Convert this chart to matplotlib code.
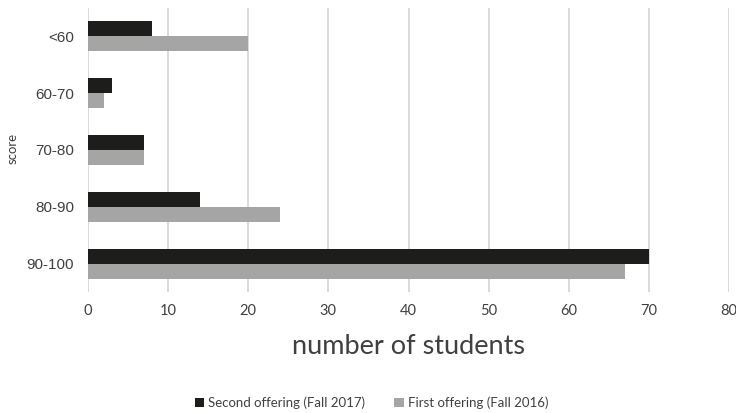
import numpy as np
import matplotlib.pyplot as plt

categories = ["<60", "60-70", "70-80", "80-90", "90-100"]
second_offering = [8, 3, 7, 14, 70]   # Fall 2017
first_offering = [20, 2, 7, 24, 67]   # Fall 2016
x_ticks = [0, 10, 20, 30, 40, 50, 60, 70, 80]

dark = "#1d1d1b"
gray = "#a5a5a5"
text_col = "#404040"

fig = plt.figure(figsize=(7.36, 4.13), dpi=100)
ax = fig.add_axes([0.1196, 0.293, 0.8709, 0.688])

pos = np.arange(len(categories))
h = 0.265
ax.barh(pos - h / 2, second_offering, height=h, color=dark,
        label="Second offering (Fall 2017)", zorder=3)
ax.barh(pos + h / 2, first_offering, height=h, color=gray,
        label="First offering (Fall 2016)", zorder=3)

ax.set_ylim(len(categories) - 0.5, -0.5)
ax.set_xlim(0, 80)
ax.set_xticks(x_ticks)
ax.set_xticklabels([str(t) for t in x_ticks], family="Lato", fontsize=10.5, color=text_col)
ax.set_yticks(pos)
ax.set_yticklabels(categories, family="Liberation Sans", fontsize=11, color=text_col)
ax.tick_params(length=0, pad=9)
ax.tick_params(axis="y", pad=10)

ax.grid(axis="x", color="#d9d9d9", linewidth=1.4, zorder=0)
for s in ax.spines.values():
    s.set_visible(False)

ax.set_xlabel("number of students", family="Lato", fontsize=19.5, color=text_col, labelpad=11)
fig.text(0.017, 0.64, "score", rotation=90, family="Lato", fontsize=9.5,
         color=text_col, ha="center", va="center")

leg = fig.legend(loc="center", bbox_to_anchor=(0.505, 0.025), ncol=2, frameon=False,
                 prop={"family": "Lato", "size": 9.5}, handlelength=0.7, handleheight=0.7,
                 handletextpad=0.3, columnspacing=2.2)
for t in leg.get_texts():
    t.set_color(text_col)

fig.savefig("out.png", dpi=100)
